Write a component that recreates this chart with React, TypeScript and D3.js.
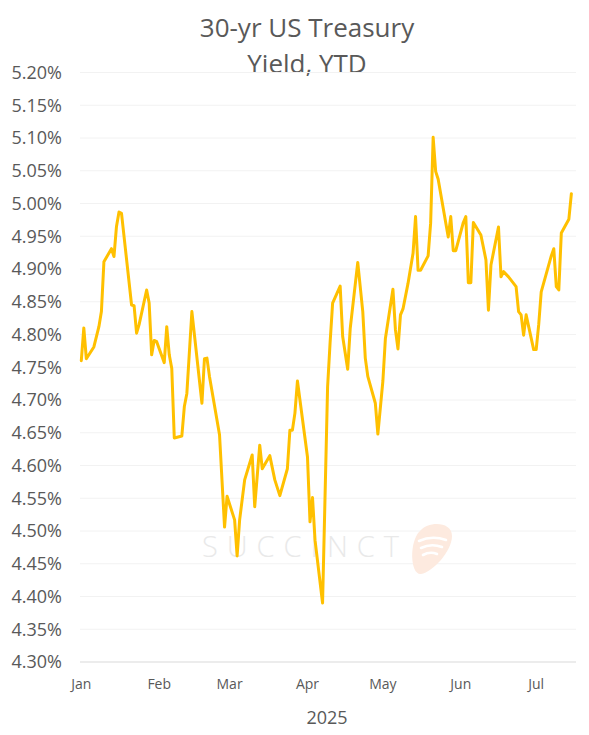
import React from "react";
import * as d3 from "d3";

const dates: string[] = [
  "2025-01-01","2025-01-02","2025-01-03","2025-01-06","2025-01-08","2025-01-09","2025-01-10","2025-01-13","2025-01-14","2025-01-15",
  "2025-01-16","2025-01-17","2025-01-21","2025-01-22","2025-01-23","2025-01-24","2025-01-27","2025-01-28","2025-01-29","2025-01-30",
  "2025-01-31","2025-02-03","2025-02-04","2025-02-05","2025-02-06","2025-02-07","2025-02-10","2025-02-11","2025-02-12","2025-02-14",
  "2025-02-18","2025-02-19","2025-02-20","2025-02-21","2025-02-25","2025-02-27","2025-02-28","2025-03-03","2025-03-04","2025-03-05",
  "2025-03-07","2025-03-10","2025-03-11","2025-03-13","2025-03-14","2025-03-17","2025-03-19","2025-03-21","2025-03-24","2025-03-25",
  "2025-03-26","2025-03-27","2025-03-28","2025-04-01","2025-04-02","2025-04-03","2025-04-04","2025-04-07","2025-04-09","2025-04-10",
  "2025-04-11","2025-04-14","2025-04-15","2025-04-17","2025-04-18","2025-04-21","2025-04-23","2025-04-24","2025-04-25","2025-04-28",
  "2025-04-29","2025-05-01","2025-05-02","2025-05-05","2025-05-06","2025-05-07","2025-05-08","2025-05-09","2025-05-11","2025-05-13",
  "2025-05-14","2025-05-15","2025-05-16","2025-05-19","2025-05-20","2025-05-21","2025-05-22","2025-05-23","2025-05-27","2025-05-28",
  "2025-05-29","2025-05-30","2025-06-02","2025-06-03","2025-06-04","2025-06-05","2025-06-06","2025-06-09","2025-06-11","2025-06-12",
  "2025-06-13","2025-06-16","2025-06-17","2025-06-18","2025-06-20","2025-06-23","2025-06-24","2025-06-25","2025-06-26","2025-06-27",
  "2025-06-30","2025-07-01","2025-07-02","2025-07-03","2025-07-07","2025-07-08","2025-07-09","2025-07-10","2025-07-11","2025-07-14",
  "2025-07-15",
];

const yields: number[] = [
  4.760, 4.810, 4.763, 4.781, 4.812, 4.835, 4.911, 4.931, 4.919, 4.965,
  4.987, 4.985, 4.845, 4.844, 4.802, 4.815, 4.868, 4.848, 4.769, 4.791,
  4.789, 4.757, 4.812, 4.769, 4.748, 4.642, 4.645, 4.690, 4.710, 4.835,
  4.695, 4.763, 4.764, 4.736, 4.647, 4.506, 4.553, 4.517, 4.462, 4.517,
  4.578, 4.616, 4.537, 4.631, 4.595, 4.615, 4.578, 4.554, 4.595, 4.654,
  4.654, 4.680, 4.729, 4.613, 4.514, 4.551, 4.486, 4.390, 4.720, 4.788,
  4.848, 4.874, 4.797, 4.747, 4.809, 4.910, 4.835, 4.764, 4.736, 4.695,
  4.648, 4.729, 4.794, 4.869, 4.807, 4.778, 4.830, 4.839, 4.878, 4.924,
  4.980, 4.898, 4.898, 4.920, 4.970, 5.101, 5.049, 5.037, 4.949, 4.980,
  4.928, 4.928, 4.971, 4.980, 4.879, 4.879, 4.971, 4.952, 4.914, 4.837,
  4.906, 4.964, 4.888, 4.896, 4.888, 4.873, 4.835, 4.830, 4.799, 4.830,
  4.777, 4.777, 4.815, 4.865, 4.920, 4.931, 4.873, 4.868, 4.955, 4.976,
  5.015,
];

const yTicks: number[] = [4.30, 4.35, 4.40, 4.45, 4.50, 4.55, 4.60, 4.65, 4.70, 4.75, 4.80, 4.85, 4.90, 4.95, 5.00, 5.05, 5.10, 5.15, 5.20];
const monthTicks: string[] = ["2025-01-01","2025-02-01","2025-03-01","2025-04-01","2025-05-01","2025-06-01","2025-07-01"];
const monthLabels: string[] = ["Jan","Feb","Mar","Apr","May","Jun","Jul"];
const xDomain: string[] = ["2025-01-01", "2025-07-17"];

const W = 589;
const H = 735;
const FONT = "'Open Sans', 'Noto Sans', sans-serif";
const TEXT = "#595959";

const parse = d3.utcParse("%Y-%m-%d");

export default function App() {
  const x = d3.scaleUtc()
    .domain(xDomain.map((s) => parse(s) as Date))
    .range([81.3, 576.4]);
  const y = d3.scaleLinear().domain([4.30, 5.20]).range([662, 72.5]);

  const data = dates.map((d, i) => ({ date: parse(d) as Date, v: yields[i] }));
  const line = d3.line<{ date: Date; v: number }>()
    .x((d) => x(d.date))
    .y((d) => y(d.v))
    .curve(d3.curveLinear);

  const plotLeft = 80;
  const plotRight = 576;

  return (
    <div style={{ position: "fixed", left: 0, top: 0 }}>
      <svg width={W} height={H} style={{ display: "block", background: "#fff" }}>
        <rect x={0} y={0} width={W} height={H} fill="#ffffff" />
        {/* title */}
        <text x={307} y={37} textAnchor="middle" fontFamily={FONT} fontSize={26} fill={TEXT}>30-yr US Treasury</text>
        <text x={307} y={73} textAnchor="middle" fontFamily={FONT} fontSize={26} fill={TEXT}>Yield, YTD</text>

        {/* gridlines */}
        {yTicks.map((t) =>
          t > 4.301 ? (
            <line key={"g" + t} x1={plotLeft} x2={plotRight} y1={y(t)} y2={y(t)} stroke="#f2f2f2" strokeWidth={1} />
          ) : null
        )}

        {/* watermark */}
        <g>
          <text x={305} y={557} textAnchor="middle" fontFamily={FONT} fontWeight={300} fontSize={29} letterSpacing={9} fill="#e9e9e9">SUCCINCT</text>
          <path d="M420,531 C428,521 452,521 452,536 C452,551 433,572 421,574 C410,575 409,541 420,531 Z" fill="#fdeadf" />
          <path d="M419,541 Q432,535 446,540" fill="none" stroke="#ffffff" strokeWidth={2.6} strokeLinecap="round" />
          <path d="M421,548 Q431,543 442,547" fill="none" stroke="#ffffff" strokeWidth={2.6} strokeLinecap="round" />
          <path d="M423,555 Q430,551 437,554" fill="none" stroke="#ffffff" strokeWidth={2.6} strokeLinecap="round" />
        </g>

        {/* x axis line */}
        <line x1={plotLeft} x2={plotRight} y1={y(4.30)} y2={y(4.30)} stroke="#d9d9d9" strokeWidth={1} />

        {/* y labels */}
        {yTicks.map((t) => (
          <text key={"y" + t} x={62} y={y(t)} dy="0.35em" textAnchor="end" fontFamily={FONT} fontSize={18} fill={TEXT}>
            {d3.format(".2f")(t) + "%"}
          </text>
        ))}

        {/* x labels */}
        {monthTicks.map((m, i) => (
          <text key={m} x={x(parse(m) as Date)} y={689} textAnchor="middle" fontFamily={FONT} fontSize={14} fill={TEXT}>
            {monthLabels[i]}
          </text>
        ))}
        <text x={327} y={724} textAnchor="middle" fontFamily={FONT} fontSize={18} fill={TEXT}>2025</text>

        {/* series */}
        <path d={line(data) || ""} fill="none" stroke="#FFC000" strokeWidth={3} strokeLinejoin="round" strokeLinecap="round" />
      </svg>
    </div>
  );
}
